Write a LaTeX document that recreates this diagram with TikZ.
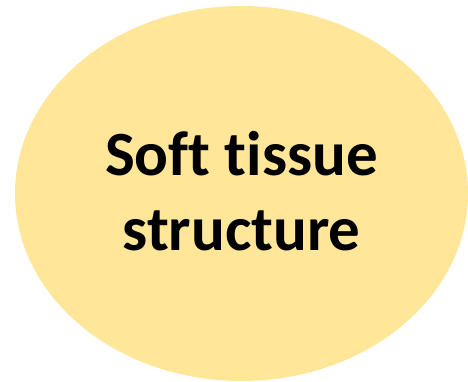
\documentclass[tikz,border=0pt]{standalone}
\usepackage{fontspec}
\setmainfont{Carlito}[Ligatures={NoCommon,NoContextual}]
\usetikzlibrary{shapes.geometric}
\definecolor{softgold}{HTML}{FFE699}

\begin{document}
\begin{tikzpicture}[x=1pt,y=1pt]
  \useasboundingbox (0,0) rectangle (468,382);
  \coordinate (C) at (241.5,188.5);
  \node[ellipse,fill=softgold,inner sep=0pt,minimum width=453pt,minimum height=375pt] (tissue) at (C) {};
  \node[align=center,font=\fontsize{63}{75}\selectfont\bfseries] (label) at ([yshift=2pt]tissue.center) {Soft tissue\\structure};
\end{tikzpicture}
\end{document}
